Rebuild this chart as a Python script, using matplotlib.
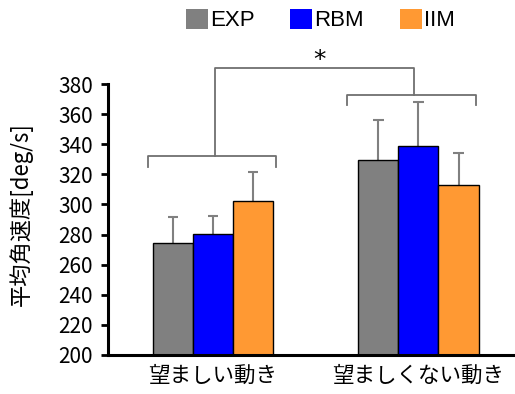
import numpy as np
import matplotlib.pyplot as plt
from matplotlib.patches import Patch

plt.rcParams['font.family'] = ['Noto Sans CJK JP', 'DejaVu Sans']

groups = ['望ましい動き', '望ましくない動き']
series = ['EXP', 'RBM', 'IIM']
colors = ['#808080', '#0000FF', '#FF9933']
means = {'EXP': [274.5, 329.6], 'RBM': [280.5, 339.2], 'IIM': [302.5, 313.0]}
errs = {'EXP': [17.0, 26.5], 'RBM': [12.0, 29.0], 'IIM': [19.0, 21.0]}
yticks = np.arange(200, 381, 20)

fig = plt.figure(figsize=(5.15, 3.94), dpi=100)
ax = fig.add_axes([108/515, 0.0997, 1 - 108/515, 0.6863])

x = np.arange(len(groups))
w = 0.195
cap = 0.025
for i, s in enumerate(series):
    xp = x + (i - 1) * w
    m = np.array(means[s])
    e = np.array(errs[s])
    ax.bar(xp, m, w, color=colors[i], edgecolor='black', linewidth=1.0, label=s, zorder=2)
    ax.vlines(xp, m, m + e, color='#808080', lw=1.5, zorder=1)
    ax.hlines(m + e, xp - cap, xp + cap, color='#808080', lw=1.5, zorder=1)

ax.set_ylim(200, 380)
ax.set_xlim(-0.511, 1.47)
ax.set_yticks(yticks)
ax.set_xticks(x)
ax.set_xticklabels(groups, fontsize=15.5)
ax.tick_params(axis='y', labelsize=15, width=2, length=5, pad=6)
ax.tick_params(axis='x', length=0, pad=7)
ax.set_ylabel('平均角速度[deg/s]', fontsize=16)
ax.yaxis.set_label_coords(-0.184, 0.522)
for sp in ['top', 'right']:
    ax.spines[sp].set_visible(False)
ax.spines['left'].set_linewidth(2.2)
ax.spines['bottom'].set_linewidth(2.2)

# significance brackets
lc = '#707070'
kw = dict(color=lc, lw=1.3, clip_on=False)
ax.plot([-0.316, -0.316, 0.307, 0.307], [325, 332.3, 332.3, 325], **kw)
ax.plot([0.652, 0.652, 1.28, 1.28], [366, 372.9, 372.9, 366], **kw)
ax.plot([0.01, 0.01, 0.978, 0.978], [332.3, 390.9, 390.9, 372.9], **kw)
ax.text(0.52, 396, '*', ha='center', va='center', fontsize=18, family='DejaVu Sans', clip_on=False)

handles = [Patch(facecolor=c, edgecolor='none') for c in colors]
fig.legend(handles, series, loc='center', bbox_to_anchor=(0.622, 0.949), ncol=3, frameon=False,
           prop={'family': 'Liberation Sans', 'size': 16}, handlelength=1.0, handleheight=1.0,
           handletextpad=0.1, columnspacing=1.6, borderaxespad=0)

fig.savefig('out.png', dpi=100)
